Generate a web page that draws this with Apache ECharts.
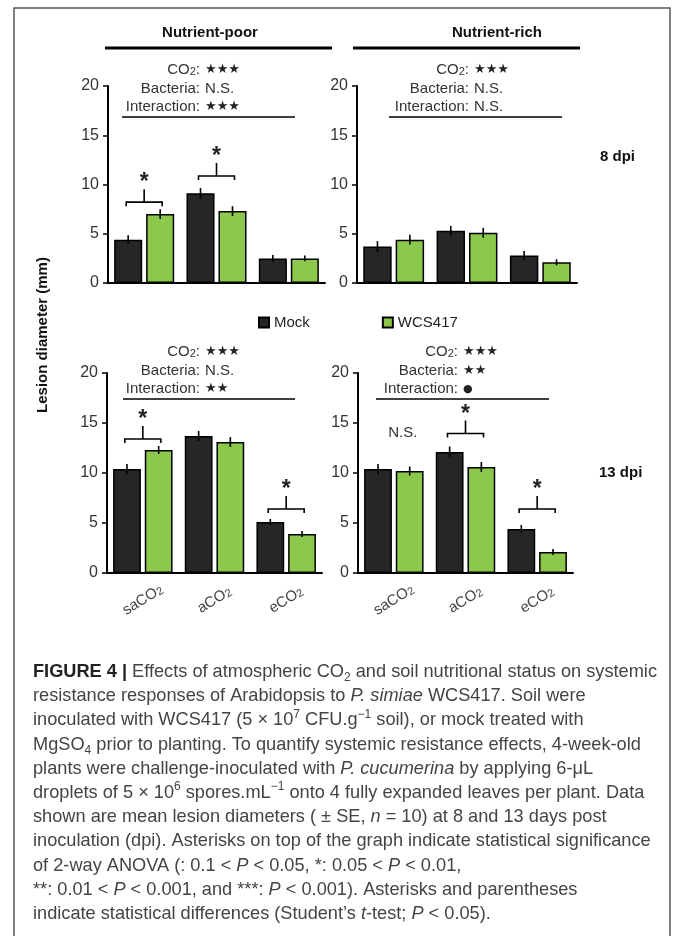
<!DOCTYPE html>
<html><head><meta charset="utf-8">
<script src="https://cdn.jsdelivr.net/npm/echarts@6/dist/echarts.min.js"></script>
<style>html,body{margin:0;padding:0;background:#fff}#c{width:674px;height:936px}</style>
</head><body><div id="c"></div>
<script>
// ---------------- DATA ----------------
const categories = ['saCO2', 'aCO2', 'eCO2'];
const seriesNames = ['Mock', 'WCS417'];
const yMin = 0, yMax = 20, yStep = 5;

const poor8Mock = [4.4, 9.1, 2.5];
const poor8MockSE = [0.45, 0.55, 0.35];
const poor8WCS = [7.0, 7.3, 2.5];
const poor8WCSSE = [0.5, 0.5, 0.3];

const rich8Mock = [3.7, 5.3, 2.8];
const rich8MockSE = [0.55, 0.5, 0.45];
const rich8WCS = [4.4, 5.1, 2.1];
const rich8WCSSE = [0.5, 0.5, 0.3];

const poor13Mock = [10.4, 13.7, 5.1];
const poor13MockSE = [0.5, 0.5, 0.3];
const poor13WCS = [12.3, 13.1, 3.9];
const poor13WCSSE = [0.4, 0.5, 0.3];

const rich13Mock = [10.4, 12.1, 4.4];
const rich13MockSE = [0.5, 0.55, 0.4];
const rich13WCS = [10.2, 10.6, 2.1];
const rich13WCSSE = [0.45, 0.5, 0.3];

const anovaTerms = ['CO2', 'Bacteria', 'Interaction'];
const anovaPoor8 = ['***', 'N.S.', '***'];
const anovaRich8 = ['***', 'N.S.', 'N.S.'];
const anovaPoor13 = ['***', 'N.S.', '**'];
const anovaRich13 = ['***', '**', '•'];

const sigPoor8 = [{ cat: 0, mark: '*' }, { cat: 1, mark: '*' }];
const sigRich8 = [];
const sigPoor13 = [{ cat: 0, mark: '*' }, { cat: 2, mark: '*' }];
const sigRich13 = [{ cat: 0, mark: 'N.S.' }, { cat: 1, mark: '*' }, { cat: 2, mark: '*' }];

const headers = ['Nutrient-poor', 'Nutrient-rich'];
const timeLabels = ['8 dpi', '13 dpi'];
const yTitle = 'Lesion diameter (mm)';

// ---------------- LAYOUT / STYLE ----------------
const FONT = '"Liberation Sans", Arial, sans-serif';
const MOCK_COLOR = '#262626';
const WCS_COLOR = '#8cc84b';
const CAT_GAP = 0.17, BAR_GAP = 0.14;

const panels = [
  { mock: poor8Mock, mockSE: poor8MockSE, wcs: poor8WCS, wcsSE: poor8WCSSE, anova: anovaPoor8, sig: sigPoor8,
    grid: { left: 108, top: 86, width: 217, height: 197 }, labels: false,
    colonX: 200, rowY: [70, 88.5, 107], rule: [122, 295, 117], lifts: [7, 12] },
  { mock: rich8Mock, mockSE: rich8MockSE, wcs: rich8WCS, wcsSE: rich8WCSSE, anova: anovaRich8, sig: sigRich8,
    grid: { left: 357, top: 86, width: 220, height: 197 }, labels: false,
    colonX: 469, rowY: [70, 88.5, 107], rule: [389, 562, 117], lifts: [] },
  { mock: poor13Mock, mockSE: poor13MockSE, wcs: poor13WCS, wcsSE: poor13WCSSE, anova: anovaPoor13, sig: sigPoor13,
    grid: { left: 107, top: 373, width: 215, height: 200 }, labels: true,
    colonX: 200, rowY: [352, 371, 389], rule: [123, 295, 399], lifts: [7, 10] },
  { mock: rich13Mock, mockSE: rich13MockSE, wcs: rich13WCS, wcsSE: rich13WCSSE, anova: anovaRich13, sig: sigRich13,
    grid: { left: 358, top: 373, width: 215, height: 200 }, labels: true,
    colonX: 458, rowY: [352, 371, 389], rule: [376, 549, 399], lifts: [31, 13, 16] }
];

function barMetrics(api) {
  const bw = api.size([1, 0])[0];
  const barW = bw * (1 - CAT_GAP) / (2 + BAR_GAP);
  return { barW, off: barW * (1 + BAR_GAP) / 2 };
}

function errRender(params, api) {
  const cat = api.value(0), v = api.value(1), se = api.value(2), side = api.value(3);
  const m = barMetrics(api);
  const x = api.coord([cat, v])[0] + (side === 0 ? -m.off : m.off);
  const t = api.coord([cat, v + se])[1], b = api.coord([cat, v - se])[1];
  return { type: 'line', shape: { x1: x, y1: t, x2: x, y2: b }, style: { stroke: '#000', lineWidth: 1.6 } };
}

function makeSigRender(p) {
  return function (params, api) {
    const s = p.sig[params.dataIndex];
    const lift = p.lifts[params.dataIndex];
    const c = api.coord([api.value(0), api.value(1)]);
    const y = c[1] - lift;
    if (s.mark === 'N.S.') {
      return { type: 'text', style: { text: 'N.S.', x: c[0] + 9, y: y, align: 'center', verticalAlign: 'middle',
        font: '15px ' + FONT, fill: '#333' } };
    }
    const hw = 18, stem = 13;
    return { type: 'group', children: [
      { type: 'polyline', shape: { points: [[c[0] - hw, y + 4], [c[0] - hw, y], [c[0] + hw, y], [c[0] + hw, y + 4]] },
        style: { stroke: '#000', lineWidth: 1.6, fill: null } },
      { type: 'line', shape: { x1: c[0], y1: y, x2: c[0], y2: y - stem }, style: { stroke: '#000', lineWidth: 1.6 } },
      { type: 'text', style: { text: s.mark, x: c[0], y: y - stem - 12 + 6, align: 'center', verticalAlign: 'middle',
        font: 'bold 23px ' + FONT, fill: '#222' } }
    ] };
  };
}

const grids = [], xAxes = [], yAxes = [], series = [];
panels.forEach((p, i) => {
  grids.push(Object.assign({ containLabel: false }, p.grid));
  xAxes.push({
    type: 'category', gridIndex: i, data: categories,
    axisLine: { lineStyle: { color: '#000', width: 2 } },
    axisTick: { show: false },
    axisLabel: {
      show: p.labels, rotate: 32, align: 'center', verticalAlign: 'middle', margin: 27,
      formatter: v => '{a|' + v.slice(0, -1) + '}{s|' + v.slice(-1) + '}',
      rich: { a: { fontSize: 15, fontFamily: FONT, color: '#444' },
              s: { fontSize: 11, fontFamily: FONT, color: '#444', verticalAlign: 'bottom' } }
    }
  });
  yAxes.push({
    type: 'value', gridIndex: i, min: yMin, max: yMax, interval: yStep,
    axisLine: { show: true, lineStyle: { color: '#000', width: 2 } },
    axisTick: { show: true, length: 5, lineStyle: { color: '#000', width: 1.5 } },
    axisLabel: { fontSize: 16, fontFamily: FONT, color: '#333', margin: 9 },
    splitLine: { show: false }
  });
  series.push({
    name: seriesNames[0], type: 'bar', xAxisIndex: i, yAxisIndex: i, data: p.mock,
    barGap: (BAR_GAP * 100) + '%', barCategoryGap: (CAT_GAP * 100) + '%',
    itemStyle: { color: MOCK_COLOR, borderColor: '#000', borderWidth: 1.5 }
  });
  series.push({
    name: seriesNames[1], type: 'bar', xAxisIndex: i, yAxisIndex: i, data: p.wcs,
    barGap: (BAR_GAP * 100) + '%', barCategoryGap: (CAT_GAP * 100) + '%',
    itemStyle: { color: WCS_COLOR, borderColor: '#000', borderWidth: 1.5 }
  });
  const errData = [];
  categories.forEach((c, k) => {
    errData.push([k, p.mock[k], p.mockSE[k], 0]);
    errData.push([k, p.wcs[k], p.wcsSE[k], 1]);
  });
  series.push({ type: 'custom', xAxisIndex: i, yAxisIndex: i, data: errData, renderItem: errRender, z: 5,
    encode: { x: 0, y: 1 }, silent: true });
  const sigData = p.sig.map(s => [s.cat, Math.max(p.mock[s.cat] + p.mockSE[s.cat], p.wcs[s.cat] + p.wcsSE[s.cat])]);
  series.push({ type: 'custom', xAxisIndex: i, yAxisIndex: i, data: sigData, renderItem: makeSigRender(p), z: 5,
    encode: { x: 0, y: 1 }, silent: true });
});

// ---------------- GRAPHIC ANNOTATIONS ----------------
const graphic = [];
graphic.push({ type: 'rect', shape: { x: 14, y: 8, width: 656, height: 960 },
  style: { fill: null, stroke: '#555', lineWidth: 1.5 }, silent: true });

const headerCenters = [210, 497];
const headerRules = [[105, 332], [353, 580]];
headers.forEach((h, k) => {
  graphic.push({ type: 'text', x: headerCenters[k], y: 33,
    style: { text: h, align: 'center', verticalAlign: 'middle', font: 'bold 15px ' + FONT, fill: '#111' } });
  graphic.push({ type: 'line', shape: { x1: headerRules[k][0], y1: 48, x2: headerRules[k][1], y2: 48 },
    style: { stroke: '#000', lineWidth: 3 } });
});

const anovaRich = {
  a: { fontSize: 15, fontFamily: FONT, fill: '#333' },
  s: { fontSize: 11, fontFamily: FONT, fill: '#333', verticalAlign: 'bottom' },
  st: { fontSize: 13, fontFamily: '"DejaVu Sans", sans-serif', fill: '#222' },
  d: { fontSize: 11, fontFamily: '"DejaVu Sans", sans-serif', fill: '#222' }
};
function termText(t) { return t === 'CO2' ? '{a|CO}{s|2}{a|:}' : '{a|' + t + ':}'; }
function valueText(v) {
  if (/^\*+$/.test(v)) return '{st|' + v.replace(/\*/g, '★') + '}';
  if (v === '•') return '{d|●}';
  return '{a|' + v + '}';
}
panels.forEach(p => {
  anovaTerms.forEach((t, r) => {
    graphic.push({ type: 'text', x: p.colonX, y: p.rowY[r],
      style: { text: termText(t), rich: anovaRich, align: 'right', verticalAlign: 'middle' } });
    graphic.push({ type: 'text', x: p.colonX + 5, y: p.rowY[r],
      style: { text: valueText(p.anova[r]), rich: anovaRich, align: 'left', verticalAlign: 'middle' } });
  });
  graphic.push({ type: 'line', shape: { x1: p.rule[0], y1: p.rule[2], x2: p.rule[1], y2: p.rule[2] },
    style: { stroke: '#000', lineWidth: 1.5 } });
});

graphic.push({ type: 'text', x: 600, y: 157,
  style: { text: timeLabels[0], align: 'left', verticalAlign: 'middle', font: 'bold 15px ' + FONT, fill: '#111' } });
graphic.push({ type: 'text', x: 599, y: 473,
  style: { text: timeLabels[1], align: 'left', verticalAlign: 'middle', font: 'bold 15px ' + FONT, fill: '#111' } });

graphic.push({ type: 'text', x: 43, y: 335, rotation: Math.PI / 2,
  style: { text: yTitle, align: 'center', verticalAlign: 'middle', font: 'bold 15px ' + FONT, fill: '#111' } });

// caption
const CAP = 18.2, LH = 24.2;
const capRich = {
  b: { fontSize: CAP, fontWeight: 'bold', fontFamily: FONT, fill: '#222', lineHeight: LH },
  i: { fontSize: CAP, fontStyle: 'italic', fontFamily: FONT, fill: '#444', lineHeight: LH },
  sup: { fontSize: 12, fontFamily: FONT, fill: '#444', lineHeight: 14, verticalAlign: 'top' },
  sub: { fontSize: 12, fontFamily: FONT, fill: '#444', lineHeight: 14, verticalAlign: 'bottom' }
};
const captionLines = [
  '{b|FIGURE 4 |} Effects of atmospheric CO{sub|2} and soil nutritional status on systemic',
  'resistance responses of Arabidopsis to {i|P. simiae} WCS417. Soil were',
  'inoculated with WCS417 (5 × 10{sup|7} CFU.g{sup|−1} soil), or mock treated with',
  'MgSO{sub|4} prior to planting. To quantify systemic resistance effects, 4-week-old',
  'plants were challenge-inoculated with {i|P. cucumerina} by applying 6-μL',
  'droplets of 5 × 10{sup|6} spores.mL{sup|−1} onto 4 fully expanded leaves per plant. Data',
  'shown are mean lesion diameters ( ± SE, {i|n} = 10) at 8 and 13 days post',
  'inoculation (dpi). Asterisks on top of the graph indicate statistical significance',
  'of 2-way ANOVA (: 0.1 < {i|P} < 0.05, *: 0.05 < {i|P} < 0.01,',
  '**: 0.01 < {i|P} < 0.001, and ***: {i|P} < 0.001). Asterisks and parentheses',
  'indicate statistical differences (Student’s {i|t}-test; {i|P} < 0.05).'
];
captionLines.forEach((ln, k) => {
  graphic.push({ type: 'text', x: 33, y: 672 + k * LH,
    style: { text: ln, rich: capRich, align: 'left', verticalAlign: 'middle',
      fontSize: CAP, fontFamily: FONT, fill: '#444', lineHeight: LH } });
});

const chart = echarts.init(document.getElementById('c'), null, { renderer: 'canvas' });
chart.setOption({
  animation: false,
  backgroundColor: '#fff',
  legend: {
    data: seriesNames, left: 253, top: 310, icon: 'rect', itemWidth: 10, itemHeight: 10, itemGap: 72,
    textStyle: { fontSize: 15, fontFamily: FONT, color: '#222' }
  },
  grid: grids, xAxis: xAxes, yAxis: yAxes, series: series, graphic: graphic
});
</script></body></html>
